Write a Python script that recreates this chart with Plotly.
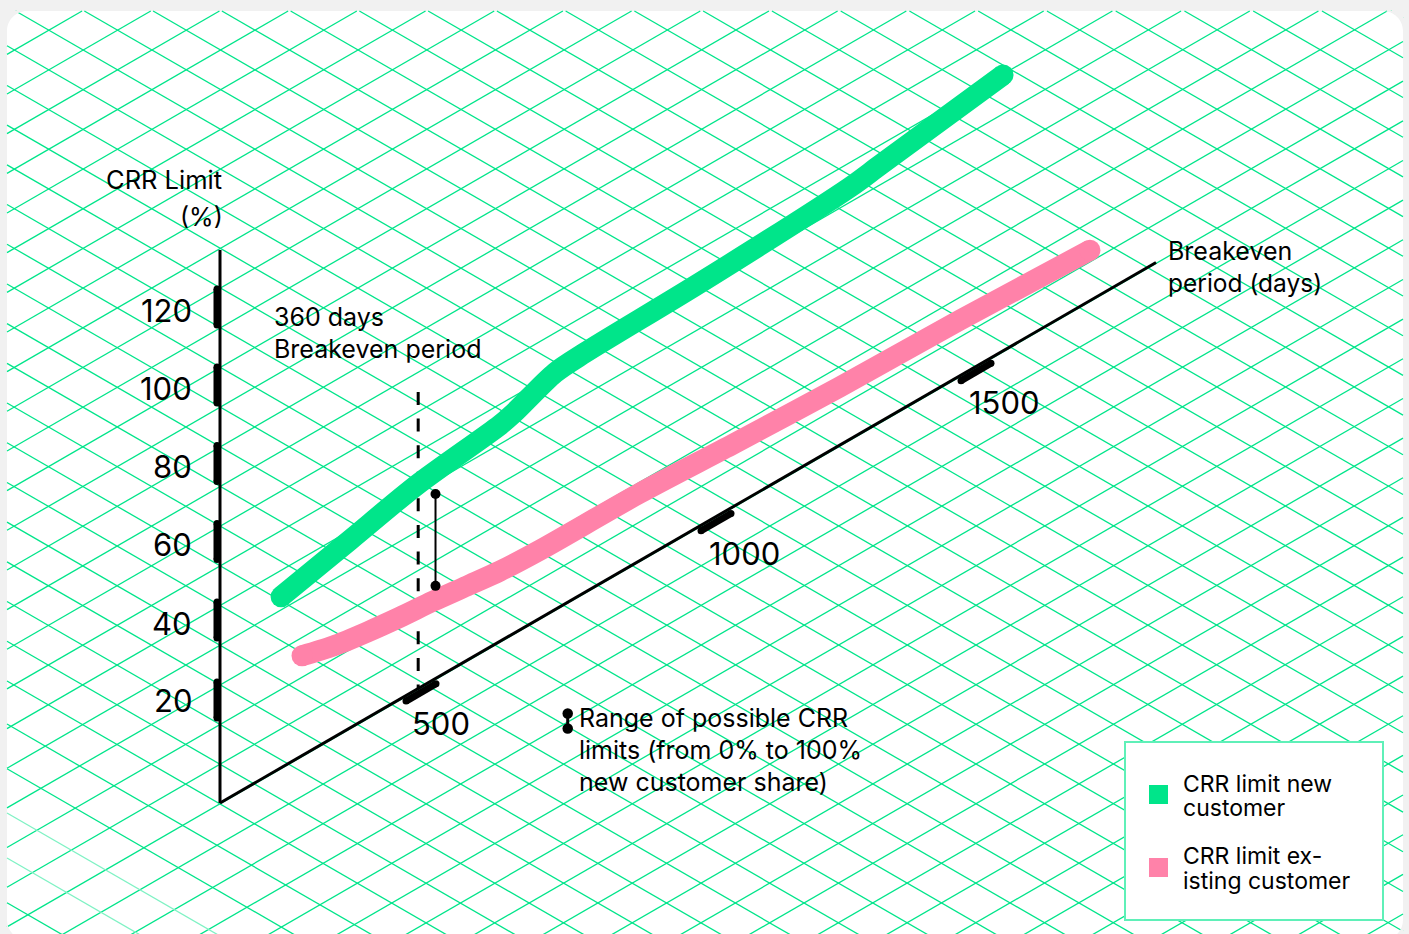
import numpy as np
import plotly.graph_objects as go

# ---- data ----
NEW_DAYS = [152, 323.4, 492.5, 634, 659, 727, 778, 973, 1258, 1315, 1552]
NEW_CRR = [37, 41.25, 45.5, 48.5, 49.6, 53.7, 54.4, 55.3, 57.6, 58.8, 63.7]
EXIST_DAYS = [204, 281, 366, 448, 520, 578, 634, 702, 871, 1036, 1238, 1469, 1719]
EXIST_CRR = [19.4, 17.8, 16.7, 15.9, 15.3, 14.45, 13.65, 13.24, 13.1, 12.15, 11.3, 10.8, 9.8]
X_TICKS = [500, 1000, 1500]
Y_TICKS = [20, 40, 60, 80, 100, 120]
RANGE_DAYS = 524.6
RANGE_CRR = [40.4, 18.0]
DASH_DAYS = 493
DASH_CRR = [69, 0]

# ---- oblique projection (the drawn scales are slightly uneven) ----
ORIGIN_X, ORIGIN_Y, SLOPE = 220, 803, 0.5774
DAY_KNOTS = [0, 500, 1000, 1500, 1846]
DAY_PX = [220, 421, 716, 976, 1156]
CRR_KNOTS = [0, 20, 40, 60, 80, 100, 120, 134.6]
CRR_PX = [0, 103, 183, 261.5, 339.5, 418, 496, 553]


def sx(days):
    return np.interp(days, DAY_KNOTS, DAY_PX)


def sy(days, crr):
    return ORIGIN_Y - SLOPE * (sx(days) - ORIGIN_X) - np.interp(crr, CRR_KNOTS, CRR_PX)


GREEN, PINK, GRAY = "#00E58A", "#FF82A9", "#F1F1F1"
LEFT, RIGHT, TOP, BOTTOM = 7, 1403, 11, 940


def clip_line(m, c):
    """Line y = m x + c clipped to the card."""
    xa, xb = sorted([(TOP - c) / m, (BOTTOM - c) / m])
    xa, xb = max(xa, LEFT), min(xb, RIGHT)
    if xa >= xb:
        return [], []
    return [xa, xb, None], [m * xa + c, m * xb + c, None]


def family(m, offsets):
    xs, ys = [], []
    for c in offsets:
        a, b = clip_line(m, c)
        xs += a
        ys += b
    return xs, ys


UP = [58.4 + 39.66 * n for n in range(0, 44)]
DOWN = [2 + 39.7 * k for k in range(-20, 18)] + [720, 764.7, 898.7]
DOWN_LIGHT = [809, 854]

fig = go.Figure()
for m, off, col in [(-SLOPE, UP, GREEN), (SLOPE, DOWN, GREEN), (SLOPE, DOWN_LIGHT, "#7FF2C4")]:
    gx, gy = family(m, off)
    fig.add_trace(go.Scatter(x=gx, y=gy, mode="lines", line=dict(color=col, width=1.3), hoverinfo="skip"))

# dashed line
dd = [DASH_DAYS, DASH_DAYS]
fig.add_trace(go.Scatter(x=sx(dd), y=sy(dd, DASH_CRR), mode="lines",
                         line=dict(color="black", width=3, dash="13px,13.6px"), hoverinfo="skip"))

# axes
ax_d = [0, DAY_KNOTS[-1]]
fig.add_trace(go.Scatter(x=sx(ax_d), y=sy(ax_d, [0, 0]), mode="lines", line=dict(color="black", width=3), hoverinfo="skip"))
fig.add_trace(go.Scatter(x=sx([0, 0]), y=sy([0, 0], [0, CRR_KNOTS[-1]]), mode="lines", line=dict(color="black", width=3), hoverinfo="skip"))

TICK_W = 7
for v in X_TICKS:
    cx, cy = float(sx(v)), float(sy(v, 0)) + 5.5
    fig.add_trace(go.Scatter(x=[cx - 15, cx + 15], y=[cy + 15 * SLOPE, cy - 15 * SLOPE], mode="lines+markers",
                             line=dict(color="black", width=TICK_W), marker=dict(color="black", size=TICK_W), hoverinfo="skip"))
for v in Y_TICKS:
    cy = float(sy(0, v))
    fig.add_trace(go.Scatter(x=[217, 217], y=[cy - 18, cy + 18], mode="lines+markers",
                             line=dict(color="black", width=TICK_W), marker=dict(color="black", size=TICK_W), hoverinfo="skip"))


def series(days, crr, col, w):
    sizes = [w] + [0] * (len(days) - 2) + [w]
    fig.add_trace(go.Scatter(x=sx(days), y=sy(days, crr), mode="lines+markers",
                             line=dict(color=col, width=w, shape="spline", smoothing=0.8),
                             marker=dict(color=col, size=sizes, opacity=1, line=dict(width=0)), hoverinfo="skip"))


series(NEW_DAYS, NEW_CRR, GREEN, 21)
series(EXIST_DAYS, EXIST_CRR, PINK, 21)

# range marker
rd = [RANGE_DAYS, RANGE_DAYS]
fig.add_trace(go.Scatter(x=sx(rd), y=sy(rd, RANGE_CRR), mode="lines+markers",
                         line=dict(color="black", width=2), marker=dict(color="black", size=10), hoverinfo="skip"))
# range key symbol
fig.add_trace(go.Scatter(x=[567.7, 567.7], y=[713.5, 728.5], mode="lines+markers",
                         line=dict(color="black", width=3), marker=dict(color="black", size=10.5), hoverinfo="skip"))

FONT = "Inter"
TEXTS = [
    ("CRR Limit", 224, 179.5, 25.5, "right"),
    ("(%)", 225, 217, 25, "right"),
    ("360 days", 272, 317, 25, "left"),
    ("Breakeven period", 272, 349, 25, "left"),
    ("Breakeven", 1166, 251, 25, "left"),
    ("period (days)", 1166, 283, 24.5, "left"),
    ("Range of possible CRR", 577, 718, 25, "left"),
    ("limits (from 0% to 100%", 577, 750, 25, "left"),
    ("new customer share)", 577, 782, 25, "left"),
    ("CRR limit new", 1181, 784, 23, "left"),
    ("customer", 1181, 808, 23, "left"),
    ("CRR limit ex-", 1181, 856, 23, "left"),
    ("isting customer", 1181, 881, 23, "left"),
]
ann = [dict(text=t, x=x, y=y, xref="x", yref="y", xanchor=a, yanchor="middle", showarrow=False,
            font=dict(family=FONT, size=s, color="black")) for t, x, y, s, a in TEXTS]
for v in Y_TICKS:
    ann.append(dict(text=str(v), x=194, y=float(sy(0, v)) + (0.5 if v == 20 else 3), xref="x", yref="y", xanchor="right", yanchor="middle",
                    showarrow=False, font=dict(family=FONT, size=31, color="black")))
for v, dx, dy in zip(X_TICKS, [20, 28, 28], [37, 37, 36]):
    ann.append(dict(text=str(v), x=float(sx(v)) + dx, y=float(sy(v, 0)) + dy, xref="x", yref="y", xanchor="center",
                    yanchor="middle", showarrow=False, font=dict(family=FONT, size=31, color="black")))


def corner(path):
    return dict(type="path", path=path, fillcolor=GRAY, line=dict(width=0), layer="above", xref="x", yref="y")


shapes = [
    dict(type="rect", x0=LEFT, x1=RIGHT, y0=TOP, y1=BOTTOM + 20, fillcolor="white", line=dict(width=0), layer="below", xref="x", yref="y"),
    corner("M7 11 L27 11 C16 11 7 20 7 31 Z"),
    corner("M1403 11 L1383 11 C1394 11 1403 20 1403 31 Z"),
    corner("M7 940 L27 940 C16 940 7 931 7 920 Z"),
    corner("M1403 940 L1383 940 C1394 940 1403 931 1403 920 Z"),
    dict(type="rect", x0=1125, x1=1383, y0=742, y1=920, fillcolor="white", line=dict(color="#5FF0B8", width=2), layer="above", xref="x", yref="y"),
    dict(type="rect", x0=1149, x1=1168, y0=785, y1=804, fillcolor=GREEN, line=dict(width=0), layer="above", xref="x", yref="y"),
    dict(type="rect", x0=1149, x1=1168, y0=858, y1=877, fillcolor=PINK, line=dict(width=0), layer="above", xref="x", yref="y"),
]

fig.update_layout(
    width=1409, height=934, margin=dict(l=0, r=0, t=0, b=0), showlegend=False,
    paper_bgcolor=GRAY, plot_bgcolor=GRAY, shapes=shapes, annotations=ann, hovermode=False,
    xaxis=dict(range=[0, 1409], visible=False, fixedrange=True),
    yaxis=dict(range=[934, 0], visible=False, fixedrange=True),
)
fig.write_html("out.html", config=dict(displayModeBar=False),
               post_script="document.body.style.margin='0';document.body.style.overflow='hidden';")
